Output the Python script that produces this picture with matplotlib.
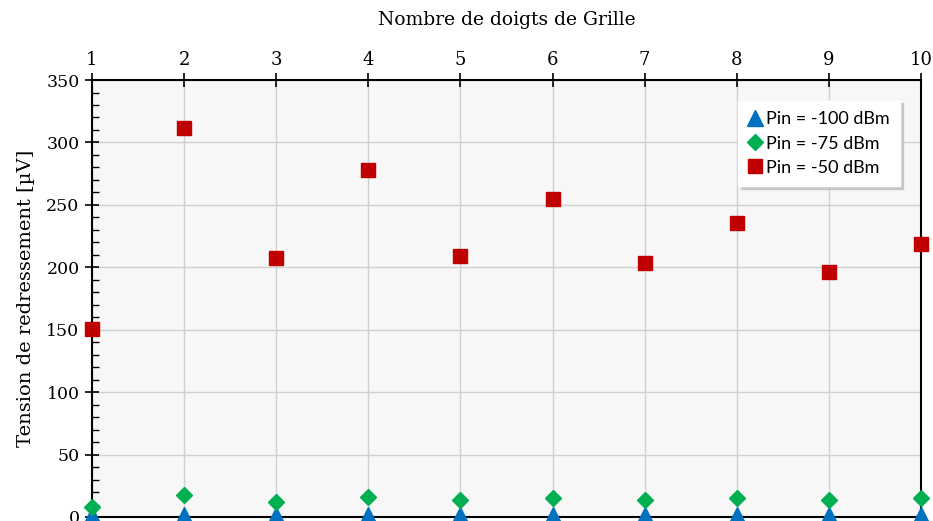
import matplotlib.pyplot as plt
from matplotlib.ticker import MultipleLocator

# Nombre de doigts de grille
doigts = [1, 2, 3, 4, 5, 6, 7, 8, 9, 10]

# Tension de redressement [µV] pour chaque puissance d'entrée
v_m100 = [1.2, 1.8, 1.3, 1.6, 1.4, 1.5, 1.3, 1.6, 1.4, 1.7]
v_m75 = [8.3, 17.6, 12.3, 16.3, 13.6, 15.5, 13.6, 15.5, 13.6, 15.0]
v_m50 = [150.6, 311.6, 207.4, 278.0, 209.0, 254.7, 203.4, 235.5, 196.2, 218.6]

plt.rcParams['font.family'] = ['DejaVu Serif']

fig = plt.figure(figsize=(9.33, 5.21), dpi=100)
ax = fig.add_axes([0.0986, 0.0077, 0.8885, 0.8387])
ax.set_facecolor('#F7F7F7')

ax.plot(doigts, v_m100, linestyle='none', marker='^', markersize=11,
        color='#0070C0', label='Pin = -100 dBm', clip_on=False, zorder=4)
ax.plot(doigts, v_m75, linestyle='none', marker='D', markersize=8,
        color='#00B050', label='Pin = -75 dBm', clip_on=False, zorder=4)
ax.plot(doigts, v_m50, linestyle='none', marker='s', markersize=10.5,
        color='#C00000', label='Pin = -50 dBm', clip_on=False, zorder=4)

ax.set_xlim(1, 10)
ax.set_ylim(0, 350)
ax.xaxis.set_major_locator(MultipleLocator(1))
ax.yaxis.set_major_locator(MultipleLocator(50))
ax.yaxis.set_minor_locator(MultipleLocator(10))

# axe des x en haut
ax.xaxis.tick_top()
ax.xaxis.set_label_position('top')
ax.tick_params(axis='x', which='major', direction='inout', length=10, width=1.2,
               labelsize=13, pad=3, top=True, bottom=False)
ax.tick_params(axis='y', which='major', direction='inout', length=10, width=1.2,
               labelsize=12.5, pad=4, right=False)
ax.tick_params(axis='y', which='minor', direction='in', length=5, width=1.0)

for s in ax.spines.values():
    s.set_linewidth(1.5)
    s.set_color('black')

ax.grid(True, which='major', color='#D0D0D0', linewidth=1.0)
ax.set_axisbelow(True)

ax.set_xlabel('Nombre de doigts de Grille', fontsize=13.5, labelpad=19)
ax.set_ylabel('Tension de redressement [µV]', fontsize=14, labelpad=8)

leg = ax.legend(loc='upper right', bbox_to_anchor=(0.975, 0.953),
                prop={'family': 'Lato', 'size': 13}, frameon=True,
                fancybox=False, shadow={'color': '#BBBBBB', 'alpha': 0.7, 'ox': 2, 'oy': -2},
                handlelength=0.7, handletextpad=0.25, borderpad=0.6,
                labelspacing=0.45, borderaxespad=0)
leg.get_frame().set_edgecolor('white')
leg.get_frame().set_facecolor('white')
leg.get_frame().set_alpha(1)

fig.savefig('out.png', dpi=100)
